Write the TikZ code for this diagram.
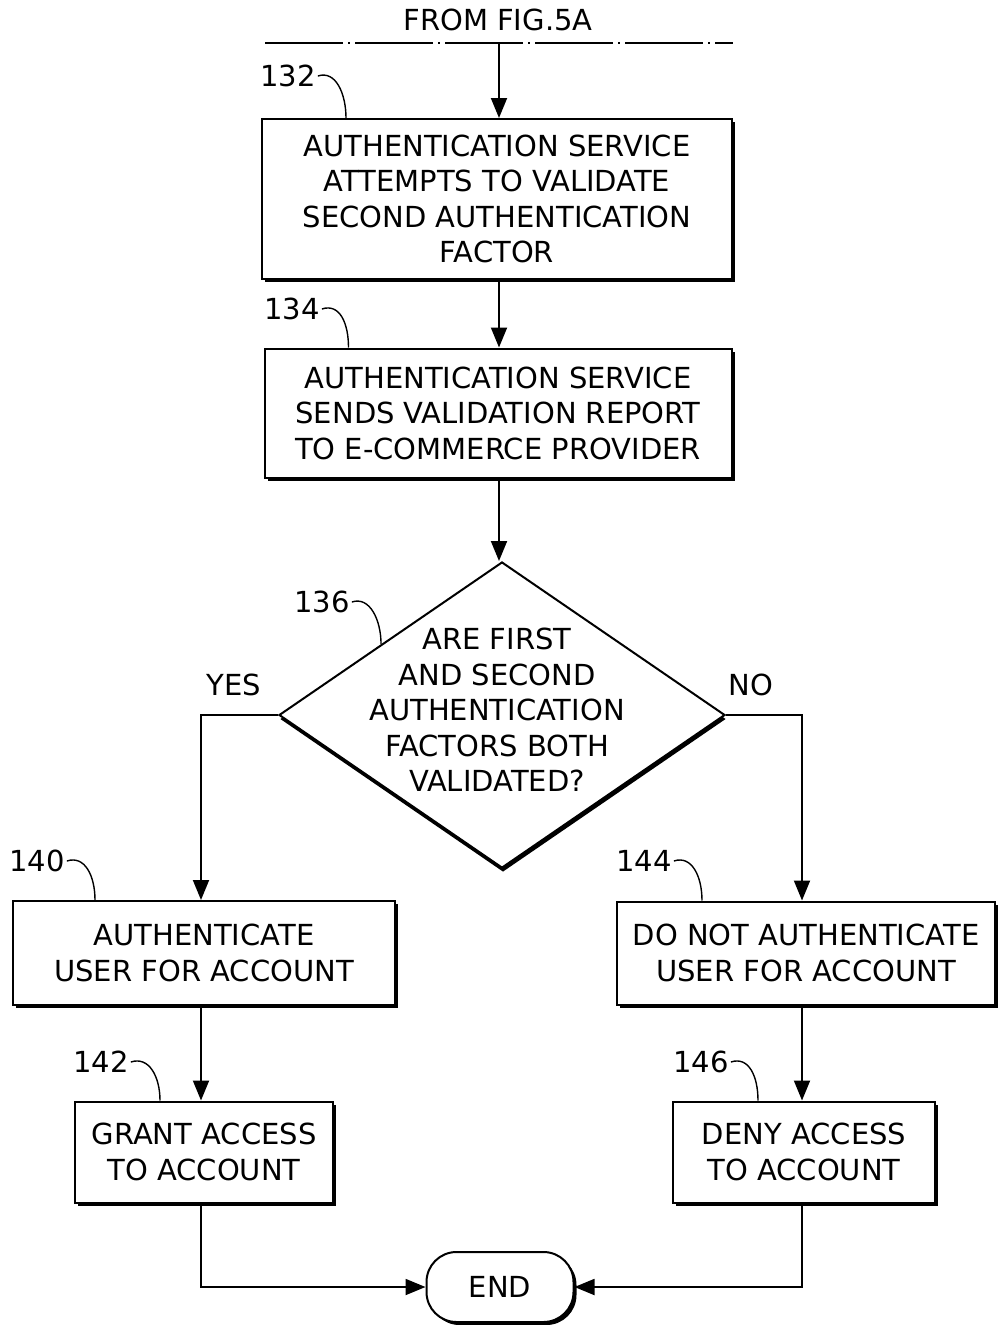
\documentclass[tikz,border=0pt]{standalone}
\usepackage{fontspec}
\setmainfont{DejaVu Sans}
\usepackage{tikz}
\usetikzlibrary{calc,arrows.meta,positioning,shapes.geometric,shadows}
\newcommand{\flowfont}{\fontsize{29pt}{35.5pt}\selectfont}
\tikzset{
  ar/.style={-{Triangle[length=20pt,width=16pt]},line width=1.9pt},
  ln/.style={line width=1.6pt},
  shd/.style={drop shadow={shadow xshift=3pt,shadow yshift=-3pt,fill=black,opacity=1}},
  box/.style={draw,line width=2pt,fill=white,shd,align=center,inner sep=0pt,font=\flowfont},
  decision/.style={diamond,draw,line width=2pt,fill=white,inner sep=0pt,
    drop shadow={shadow xshift=1pt,shadow yshift=-4pt,fill=black,opacity=1}},
  term/.style={draw,line width=2pt,fill=white,shd,rounded corners=30pt,font=\flowfont},
  refno/.style={font=\flowfont,inner sep=2pt},
  lead/.style={line width=1.4pt}
}

\begin{document}
\begin{tikzpicture}[x=1pt,y=-1pt]
\useasboundingbox (0,0) rectangle (997,1325);
% off-page connector
\node[font=\flowfont] (from) at (498,20) {FROM FIG.5A};
\draw[ln,dash pattern=on 78pt off 5pt on 2pt off 5pt] (265,43) -- (733,43);
\coordinate (in5a) at (499,43);
% steps
\node[box,minimum width=470pt,minimum height=160pt] (b132) at (497,199)
  {AUTHENTICATION SERVICE\\ATTEMPTS TO VALIDATE\\SECOND AUTHENTICATION\\FACTOR};
\node[box,minimum width=467pt,minimum height=129pt] (b134) at (498,413)
  {AUTHENTICATION SERVICE\\SENDS VALIDATION REPORT\\TO E-COMMERCE PROVIDER};
\node[decision,minimum width=446pt,minimum height=306pt] (d136) at (502,715) {};
\node[font=\flowfont,align=center,inner sep=0pt] (t136) at (497,710)
  {ARE FIRST\\AND SECOND\\AUTHENTICATION\\FACTORS BOTH\\VALIDATED?};
\node[box,minimum width=382pt,minimum height=104pt] (b140) at (204,953)
  {AUTHENTICATE\\USER FOR ACCOUNT};
\node[box,minimum width=378pt,minimum height=103pt] (b144) at (806,953)
  {DO NOT AUTHENTICATE\\USER FOR ACCOUNT};
\node[box,minimum width=258pt,minimum height=101pt] (b142) at (204,1152)
  {GRANT ACCESS\\TO ACCOUNT};
\node[box,minimum width=262pt,minimum height=101pt] (b146) at (804,1152)
  {DENY ACCESS\\TO ACCOUNT};
\node[term,minimum width=147pt,minimum height=70pt] (end) at (500,1287) {END};
% branch labels
\node[font=\flowfont] (yes) at (234,685) {YES};
\node[font=\flowfont] (no) at (751,685) {NO};
% reference numerals
\node[refno] (n132) at (288,76) {132};
\node[refno] (n134) at (292,309) {134};
\node[refno] (n136) at (322,602) {136};
\node[refno] (n140) at (37,861) {140};
\node[refno] (n144) at (644,861) {144};
\node[refno] (n142) at (101,1062) {142};
\node[refno] (n146) at (701,1062) {146};
\draw[lead] (n132.east) .. controls +(18,-6) and +(0,-24) .. ($(b132.north west)+(85,0)$);
\draw[lead] (n134.east) .. controls +(18,-6) and +(0,-24) .. ($(b134.north west)+(85,0)$);
\draw[lead] (n136.east) .. controls +(18,-6) and +(0,-24) .. ($(d136.north)!0.54!(d136.west)$);
\draw[lead] (n140.east) .. controls +(18,-6) and +(0,-24) .. ($(b140.north west)+(83,0)$);
\draw[lead] (n144.east) .. controls +(18,-6) and +(0,-24) .. ($(b144.north west)+(86,0)$);
\draw[lead] (n142.east) .. controls +(18,-6) and +(0,-24) .. ($(b142.north west)+(86,0)$);
\draw[lead] (n146.east) .. controls +(18,-6) and +(0,-24) .. ($(b146.north west)+(86,0)$);
% flow
\coordinate (colL) at (201,0);
\coordinate (colR) at (802,0);
\draw[ar] (in5a) -- (in5a |- b132.north);
\draw[ar] (in5a |- b132.south) -- (in5a |- b134.north);
\draw[ar] (in5a |- b134.south) -- (in5a |- d136.north);
\draw[ar] (d136.west) -| (colL |- b140.north);
\draw[ar] (d136.east) -| (colR |- b144.north);
\draw[ar] (colL |- b140.south) -- (colL |- b142.north);
\draw[ar] (colR |- b144.south) -- (colR |- b146.north);
\draw[ar] (colL |- b142.south) |- (end.west);
\draw[ar] (colR |- b146.south) |- (end.east);
\end{tikzpicture}
\end{document}
